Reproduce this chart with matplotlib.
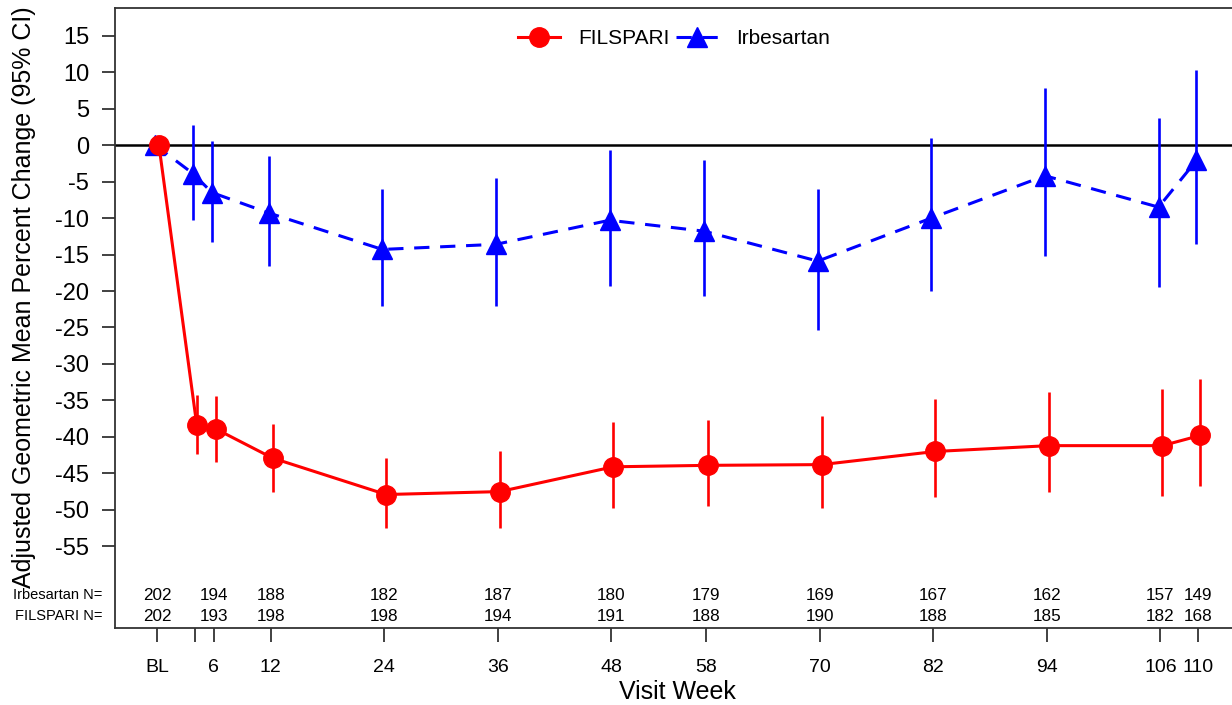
import numpy as np
import matplotlib.pyplot as plt

plt.rcParams['font.family'] = ['Liberation Sans', 'DejaVu Sans']

# visit weeks (0 = baseline)
weeks = [0, 4, 6, 12, 24, 36, 48, 58, 70, 82, 94, 106, 110]
tick_labels = ['BL', '', '6', '12', '24', '36', '48', '58', '70', '82', '94', '106', '110']

# FILSPARI: mean and 95% CI
fil_mean = [0, -38.4, -38.9, -42.9, -47.9, -47.5, -44.1, -43.9, -43.8, -42.0, -41.2, -41.2, -39.8]
fil_lo = [0, -42.4, -43.4, -47.6, -52.5, -52.5, -49.7, -49.5, -49.7, -48.3, -47.5, -48.1, -46.7]
fil_hi = [0, -34.2, -34.4, -38.2, -42.9, -42.0, -38.0, -37.7, -37.2, -34.8, -33.8, -33.4, -32.0]

# Irbesartan: mean and 95% CI
irb_mean = [0, -3.9, -6.5, -9.3, -14.3, -13.6, -10.3, -11.8, -15.9, -10.0, -4.2, -8.5, -2.1]
irb_lo = [0, -10.3, -13.3, -16.6, -22.0, -22.0, -19.3, -20.7, -25.3, -20.0, -15.2, -19.4, -13.5]
irb_hi = [0, 2.7, 0.5, -1.5, -6.0, -4.5, -0.7, -2.0, -6.0, 1.0, 7.8, 3.7, 10.3]

irb_n = [202, 194, 188, 182, 187, 180, 179, 169, 167, 162, 157, 149]
fil_n = [202, 193, 198, 198, 194, 191, 188, 190, 188, 185, 182, 168]
n_weeks = [0, 6, 12, 24, 36, 48, 58, 70, 82, 94, 106, 110]

x = np.array(weeks, dtype=float)
dodge = 0.2

fig = plt.figure(figsize=(12.32, 7.05), dpi=100)
ax = fig.add_axes([115 / 1232, 1 - 628 / 705, (1240 - 115) / 1232, (628 - 8) / 705])

ax.axhline(0, color='black', linewidth=1.8, zorder=1)

# error bars
fil = np.array(fil_mean)
irb = np.array(irb_mean)
ax.vlines(x - dodge, irb_lo, irb_hi, color='blue', linewidth=1.9, zorder=2)
ax.vlines(x + dodge, fil_lo, fil_hi, color='red', linewidth=1.9, zorder=2)

ax.plot(x - dodge, irb, color='blue', linestyle=(0, (5, 3.5)), linewidth=2.2,
        marker='^', markersize=15, label='Irbesartan', zorder=3)
ax.plot(x + dodge, fil, color='red', linestyle='-', linewidth=2.2,
        marker='o', markersize=14, label='FILSPARI', zorder=4)

handles, labels = ax.get_legend_handles_labels()
ax.legend(handles[::-1], labels[::-1], loc='upper center', ncol=2, frameon=False,
          fontsize=15, bbox_to_anchor=(0.497, 1.0), handlelength=2.0,
          columnspacing=0.3, handletextpad=0.9, borderaxespad=0.6)

# N at risk table inside the plot
for w, a, b in zip(n_weeks, irb_n, fil_n):
    ax.text(w, -61.7, str(a), ha='center', va='center', fontsize=12.3)
    ax.text(w, -64.6, str(b), ha='center', va='center', fontsize=12.3)
ax.text(-5.8, -61.7, 'Irbesartan N=', ha='right', va='center', fontsize=10.5)
ax.text(-5.8, -64.6, 'FILSPARI N=', ha='right', va='center', fontsize=10.5)

ax.set_xlim(-4.44, 114.4)
ax.set_ylim(-66.2, 18.8)
ax.set_xticks(weeks)
ax.set_xticklabels(tick_labels, fontsize=14)
ax.set_yticks(np.arange(-55, 20, 5))
ax.set_yticklabels([str(v) for v in range(-55, 20, 5)], fontsize=17)
ax.tick_params(axis='x', length=10, width=1.3, pad=12, color='#333333')
ax.tick_params(axis='y', length=9.5, width=1.3, pad=9, color='#333333')
ax.set_xlabel('Visit Week', fontsize=18, va='center')
ax.xaxis.set_label_coords((677 - 115) / 1125, -(692 - 628) / 620)
ax.set_ylabel('Adjusted Geometric Mean Percent Change (95% CI)', fontsize=18, va='center')
ax.yaxis.set_label_coords(-(115 - 24) / 1125, 0.534)

for spine in ['top', 'right', 'left', 'bottom']:
    ax.spines[spine].set_linewidth(1.3)
    ax.spines[spine].set_color('#333333')

fig.savefig('out.png', dpi=100)
